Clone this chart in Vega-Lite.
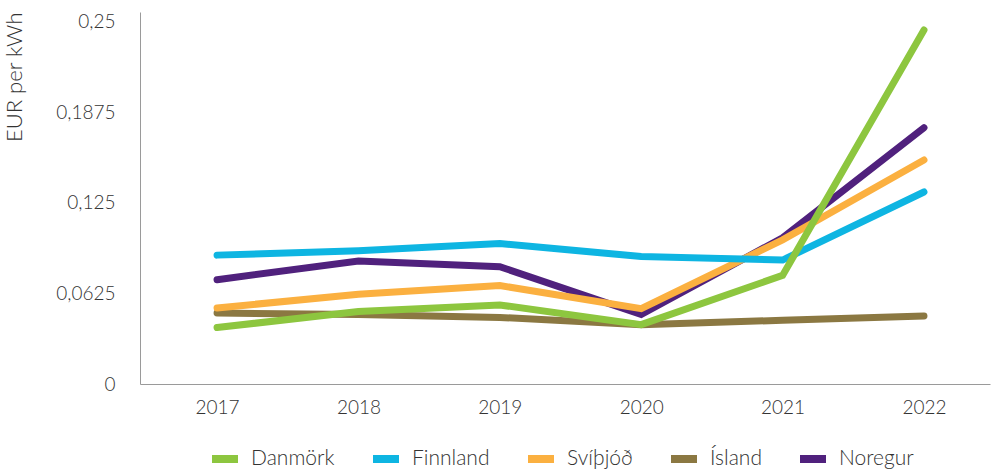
{
  "$schema": "https://vega.github.io/schema/vega-lite/v6.json",
  "width": 850,
  "height": 372,
  "autosize": {"type": "none"},
  "padding": {"left": 140, "top": 12, "right": 2, "bottom": 88},
  "background": "white",
  "config": {
    "view": {"stroke": null},
    "font": "Lato",
    "axis": {"labelFont": "Lato", "titleFont": "Lato", "labelColor": "#333333", "titleColor": "#333333", "labelFontWeight": 300, "titleFontWeight": 300}
  },
  "data": {
    "values": [
      {"year": 2017, "country": "Noregur", "value": 0.072},
      {"year": 2018, "country": "Noregur", "value": 0.085},
      {"year": 2019, "country": "Noregur", "value": 0.081},
      {"year": 2020, "country": "Noregur", "value": 0.048},
      {"year": 2021, "country": "Noregur", "value": 0.101},
      {"year": 2022, "country": "Noregur", "value": 0.177},
      {"year": 2017, "country": "Ísland", "value": 0.049},
      {"year": 2018, "country": "Ísland", "value": 0.048},
      {"year": 2019, "country": "Ísland", "value": 0.046},
      {"year": 2020, "country": "Ísland", "value": 0.041},
      {"year": 2021, "country": "Ísland", "value": 0.044},
      {"year": 2022, "country": "Ísland", "value": 0.047},
      {"year": 2017, "country": "Svíþjóð", "value": 0.0525},
      {"year": 2018, "country": "Svíþjóð", "value": 0.062},
      {"year": 2019, "country": "Svíþjóð", "value": 0.068},
      {"year": 2020, "country": "Svíþjóð", "value": 0.052},
      {"year": 2021, "country": "Svíþjóð", "value": 0.0995},
      {"year": 2022, "country": "Svíþjóð", "value": 0.1547},
      {"year": 2017, "country": "Finnland", "value": 0.089},
      {"year": 2018, "country": "Finnland", "value": 0.092},
      {"year": 2019, "country": "Finnland", "value": 0.097},
      {"year": 2020, "country": "Finnland", "value": 0.088},
      {"year": 2021, "country": "Finnland", "value": 0.0856},
      {"year": 2022, "country": "Finnland", "value": 0.1326},
      {"year": 2017, "country": "Danmörk", "value": 0.039},
      {"year": 2018, "country": "Danmörk", "value": 0.050},
      {"year": 2019, "country": "Danmörk", "value": 0.0546},
      {"year": 2020, "country": "Danmörk", "value": 0.041},
      {"year": 2021, "country": "Danmörk", "value": 0.075},
      {"year": 2022, "country": "Danmörk", "value": 0.2445}
    ]
  },
  "mark": {"type": "line", "strokeWidth": 7, "strokeCap": "round", "strokeJoin": "miter"},
  "encoding": {
    "x": {
      "field": "year", "type": "quantitative",
      "scale": {"domain": [2016.455, 2022.467], "nice": false, "zero": false},
      "axis": {"values": [2017, 2018, 2019, 2020, 2021, 2022], "format": "d", "title": null, "grid": false, "ticks": false, "domainColor": "#9a9a9a", "domainWidth": 1, "labelFontSize": 19, "labelPadding": 14}
    },
    "y": {
      "field": "value", "type": "quantitative",
      "scale": {"domain": [0, 0.2569], "nice": false},
      "axis": {"values": [0, 0.0625, 0.125, 0.1875, 0.25], "labelExpr": "replace(format(datum.value, '.4~f'), '.', ',')", "title": "EUR per kWh", "titleFontSize": 22, "titleAnchor": "end", "titlePadding": 29, "grid": false, "ticks": false, "domainColor": "#9a9a9a", "domainWidth": 1, "labelFontSize": 19, "labelPadding": 25}
    },
    "color": {
      "field": "country", "type": "nominal",
      "scale": {"domain": ["Danmörk", "Finnland", "Svíþjóð", "Ísland", "Noregur"], "range": ["#8DC63F", "#0EB5E2", "#FBB040", "#8B7842", "#50217D"]},
      "legend": {"orient": "none", "legendX": 68, "legendY": 430, "padding": 0, "direction": "horizontal", "title": null, "symbolType": "stroke", "symbolStrokeWidth": 8, "symbolSize": 676, "labelFontSize": 21, "labelFont": "Lato", "labelFontWeight": 300, "labelColor": "#333333", "columnPadding": 22, "labelOffset": 9}
    }
  }
}
